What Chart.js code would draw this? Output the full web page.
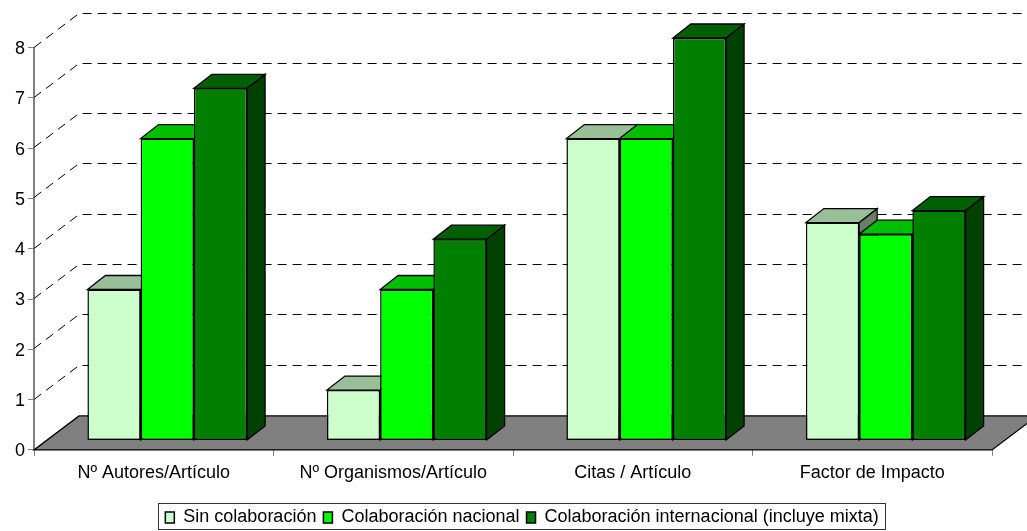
<!DOCTYPE html>
<html>
<head>
<meta charset="utf-8">
<title>Indicadores por tipo de colaboración</title>
<script src="https://cdn.jsdelivr.net/npm/chart.js@4"></script>
<style>
  html, body { margin: 0; padding: 0; background: #fff; }
  canvas { display: block; }
</style>
</head>
<body>
<canvas id="chart" width="1027" height="531"></canvas>
<script>
// ===== Data =====
const categories = ['Nº Autores/Artículo', 'Nº Organismos/Artículo', 'Citas / Artículo', 'Factor de Impacto'];
const sinColaboracion = [3, 1, 6, 4.33];
const colaboracionNacional = [6, 3, 6, 4.1];
const colaboracionInternacional = [7, 4, 8, 4.57];
const seriesNames = ['Sin colaboración', 'Colaboración nacional', 'Colaboración internacional (incluye mixta)'];
const yTicks = [0, 1, 2, 3, 4, 5, 6, 7, 8];

// front, top and side colours of each series
const frontColors = ['#CCFFCC', '#00FF00', '#007F00'];
const topColors = ['#99BF99', '#00BF00', '#005F00'];
const sideColors = ['#668066', '#008000', '#004000'];

// ===== 3D look =====
const FONT = '"Liberation Sans", Arial, sans-serif';
const wall = { dx: 45, dy: -34 };      // depth of the floor
const barShift = { dx: 13.5, dy: -9.5 }; // bars stand inside the floor
const barDepth = { dx: 18, dy: -14 };
const legendShift = { dx: 26, dy: 12 };

function poly(ctx, pts, fill, stroke) {
  ctx.beginPath();
  pts.forEach((p, i) => i ? ctx.lineTo(p[0], p[1]) : ctx.moveTo(p[0], p[1]));
  ctx.closePath();
  if (fill) { ctx.fillStyle = fill; ctx.fill(); }
  if (stroke) { ctx.strokeStyle = stroke; ctx.lineWidth = 1.3; ctx.stroke(); }
}

const plot3d = {
  id: 'plot3d',
  afterLayout(chart) {
    const lg = chart.legend;
    lg.left += legendShift.dx;
    lg.right += legendShift.dx;
    lg.top += legendShift.dy;
    lg.bottom += legendShift.dy;
  },
  beforeDatasetsDraw(chart) {
    const { ctx, chartArea: a, scales: { y } } = chart;
    ctx.save();
    // dashed lines on the side and back walls
    ctx.strokeStyle = '#000';
    ctx.lineWidth = 1;
    ctx.setLineDash([9, 6]);
    yTicks.slice(1).forEach(v => {
      const py = Math.round(y.getPixelForValue(v)) - 0.5;
      ctx.beginPath();
      ctx.moveTo(a.left, py);
      ctx.lineTo(a.left + wall.dx, py + wall.dy);
      ctx.lineTo(chart.width, py + wall.dy);
      ctx.stroke();
    });
    ctx.setLineDash([]);
    // floor
    const b = y.getPixelForValue(0);
    poly(ctx, [[a.left, b], [a.right, b], [a.right + wall.dx, b + wall.dy], [a.left + wall.dx, b + wall.dy]], '#808080', '#000');
    // top and side of each bar, left to right; the fronts come after from the library
    ctx.translate(barShift.dx, barShift.dy);
    const d = barDepth;
    categories.forEach((_, c) => {
      chart.data.datasets.forEach((_, i) => {
        const bar = chart.getDatasetMeta(i).data[c];
        const l = bar.x - bar.width / 2, r = bar.x + bar.width / 2;
        const t = bar.y, base = bar.base;
        poly(ctx, [[r, t], [r + d.dx, t + d.dy], [r + d.dx, base + d.dy], [r, base]], sideColors[i], '#000');
        poly(ctx, [[l, t], [r, t], [r + d.dx, t + d.dy], [l + d.dx, t + d.dy]], topColors[i], '#000');
      });
    });
    ctx.restore();
  },
  // shift so the library draws the bar fronts in place
  beforeDatasetDraw(chart) {
    chart.ctx.save();
    chart.ctx.translate(barShift.dx, barShift.dy);
  },
  afterDatasetDraw(chart) {
    chart.ctx.restore();
  },
  // frame round the legend
  afterDraw(chart) {
    const { ctx, legend } = chart;
    const boxes = legend.legendHitBoxes;
    const left = Math.min(...boxes.map(h => h.left)) - 7;
    const right = Math.max(...boxes.map(h => h.left + h.width)) + 7;
    const top = boxes[0].top - 6;
    ctx.save();
    ctx.strokeStyle = '#333';
    ctx.lineWidth = 1;
    ctx.strokeRect(Math.round(left) + 0.5, Math.round(top) + 0.5, Math.round(right - left), 26);
    ctx.restore();
  }
};

// ===== Chart =====
const datasets = [sinColaboracion, colaboracionNacional, colaboracionInternacional].map((data, i) => ({
  label: seriesNames[i],
  data,
  clip: false,
  backgroundColor: frontColors[i],
  borderColor: '#000',
  borderWidth: 1.5,
  borderSkipped: false
}));

new Chart(document.getElementById('chart'), {
  type: 'bar',
  data: { labels: categories, datasets },
  plugins: [plot3d],
  options: {
    responsive: false,
    animation: false,
    categoryPercentage: 2 / 3,
    barPercentage: 1,
    layout: { padding: { left: 0, right: 35, top: 47.5, bottom: 6.5 } },
    plugins: {
      title: { display: false },
      tooltip: { enabled: false },
      legend: {
        display: true,
        position: 'bottom',
        labels: {
          boxWidth: 9,
          boxHeight: 11,
          padding: 7,
          color: '#000',
          font: { family: FONT, size: 18 }
        }
      }
    },
    scales: {
      x: {
        grid: { display: true, drawOnChartArea: false, drawTicks: true, tickLength: 6, color: '#808080' },
        border: { color: '#000', width: 1 },
        ticks: { color: '#000', padding: 6, maxRotation: 0, font: { family: FONT, size: 18 } }
      },
      y: {
        min: 0,
        max: 8,
        afterBuildTicks: axis => { axis.ticks = yTicks.map(v => ({ value: v })); },
        afterFit: axis => { axis.width = 34; },
        grid: { display: true, drawOnChartArea: false, drawTicks: true, tickLength: 6, color: '#808080' },
        border: { color: '#808080', width: 2 },
        ticks: { color: '#000', padding: 3, labelOffset: 1.5, font: { family: FONT, size: 18 } }
      }
    }
  }
});
</script>
</body>
</html>
